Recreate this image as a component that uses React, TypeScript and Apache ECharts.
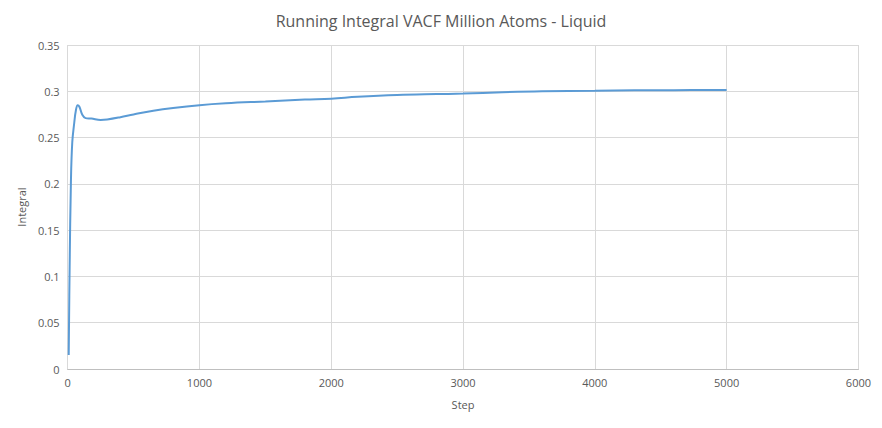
import React, { useEffect, useRef } from "react";
import * as echarts from "echarts";

const steps = [8, 15, 25, 35, 50, 62, 76, 90, 110, 136, 180, 250, 300, 400, 500, 650, 800, 1000, 1200, 1500, 1800, 2000, 2200, 2500, 2800, 3000, 3300, 3600, 4000, 4300, 4600, 5000];
const integral = [0.015, 0.11, 0.204, 0.245, 0.266, 0.279, 0.285, 0.283, 0.275, 0.271, 0.2705, 0.269, 0.2695, 0.272, 0.275, 0.279, 0.282, 0.285, 0.287, 0.289, 0.291, 0.292, 0.294, 0.296, 0.297, 0.2975, 0.299, 0.3, 0.3005, 0.301, 0.3012, 0.3015];

export default function App() {
  const ref = useRef<HTMLDivElement>(null);
  useEffect(() => {
    const chart = echarts.init(ref.current!, null, { renderer: "svg" });
    const axisText = { color: "#595959", fontSize: 11, fontFamily: "Open Sans" };
    chart.setOption({
      animation: false,
      title: { text: "Running Integral VACF Million Atoms - Liquid", left: "center", top: 0, textStyle: { color: "#595959", fontSize: 16, fontWeight: "normal", fontFamily: "Open Sans" } },
      grid: { left: 57, right: 15, top: 37, bottom: 51 },
      xAxis: { type: "value", min: 0, max: 6000, interval: 1000, name: "Step", nameLocation: "middle", nameGap: 30, nameTextStyle: axisText, axisLabel: { ...axisText, formatter: (v: number) => String(v) }, axisLine: { lineStyle: { color: "#bfbfbf" } }, axisTick: { show: false }, splitLine: { lineStyle: { color: "#d9d9d9" } } },
      yAxis: { type: "value", min: 0, max: 0.35, interval: 0.05, name: "Integral", nameLocation: "middle", nameGap: 40, nameTextStyle: axisText, axisLabel: { ...axisText, formatter: (v: number) => String(Math.round(v * 100) / 100) }, axisLine: { show: false }, axisTick: { show: false }, splitLine: { lineStyle: { color: "#d9d9d9" } } },
      series: [{ type: "line", data: steps.map((s, i) => [s, integral[i]]), smooth: 0.4, showSymbol: false, lineStyle: { color: "#5b9bd5", width: 2 } }],
    });
    return () => chart.dispose();
  }, []);
  return <div ref={ref} style={{ width: 866, height: 412 }} />;
}
